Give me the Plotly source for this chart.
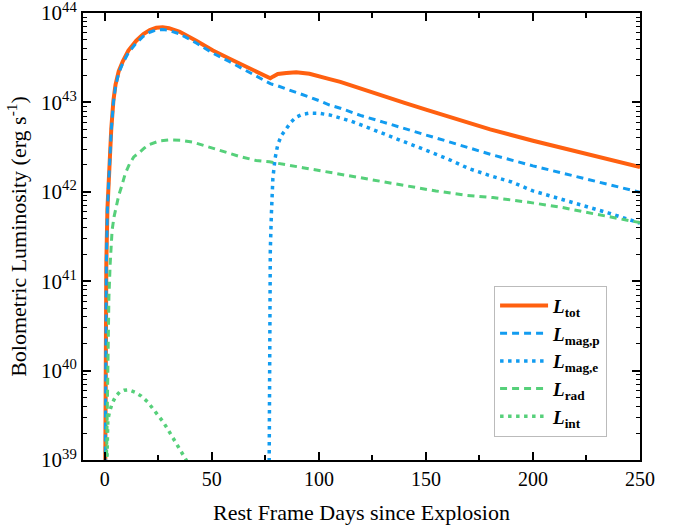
import plotly.graph_objects as go

# ---- data (days since explosion, log10 luminosity in erg/s) ----
days_tot = [0, 0.2, 0.4, 0.7, 1.2, 2, 3, 4, 5, 6.5, 8.4, 11, 14.7, 18, 21, 24, 27, 30, 35,
            42.7, 50.5, 58.3, 66, 76.5, 77.3, 78.5, 80.8, 84.8, 89.4, 95.6, 100, 105, 110,
            115, 120, 130, 140, 150, 160, 170, 180, 200, 220, 235, 250]
log_L_tot = [38.0, 39.0, 40.2, 41.2, 41.8, 42.25, 42.7, 43.02, 43.2, 43.35, 43.46, 43.58,
             43.69, 43.765, 43.81, 43.835, 43.84, 43.83, 43.79, 43.69, 43.58, 43.488,
             43.395, 43.278, 43.27, 43.288, 43.318, 43.328, 43.338, 43.32, 43.296, 43.26,
             43.229, 43.188, 43.148, 43.073, 42.995, 42.92, 42.845, 42.764, 42.698,
             42.571, 42.454, 42.368, 42.276]

days_magp = [0, 0.2, 0.4, 0.7, 1.2, 2, 3, 4, 5, 6.5, 8.4, 11, 14.7, 18, 21, 24, 27, 30, 35,
             42.7, 50.5, 58.3, 66, 76.5, 77.3, 78.5, 80.8, 84.8, 89.4, 95.6, 100, 105, 110,
             115, 120, 130, 140, 150, 160, 170, 180, 200, 220, 235, 250]
log_L_magp = [38.0, 39.0, 40.2, 41.2, 41.8, 42.24, 42.69, 43.0, 43.18, 43.33, 43.44, 43.555,
              43.665, 43.74, 43.785, 43.81, 43.815, 43.805, 43.765, 43.665, 43.55, 43.455,
              43.355, 43.215, 43.21, 43.2, 43.185, 43.15, 43.115, 43.06, 43.02, 42.97,
              42.935, 42.89, 42.85, 42.78, 42.705, 42.635, 42.565, 42.49, 42.42, 42.29,
              42.17, 42.085, 41.995]

days_mage = [76.55, 76.9, 77.3, 77.8, 78.5, 79.5, 80.8, 82.5, 84.8, 87, 89.4, 92, 95.6, 100,
             105, 110, 115, 120, 130, 140, 150, 160, 170, 180, 190, 200, 210, 220, 235, 250]
log_L_mage = [38.0, 40.8, 41.35, 41.75, 42.15, 42.37, 42.53, 42.63, 42.71, 42.78, 42.835,
              42.865, 42.88, 42.878, 42.86, 42.83, 42.79, 42.745, 42.655, 42.56, 42.465,
              42.37, 42.26, 42.18, 42.11, 42.01, 41.94, 41.87, 41.765, 41.65]

days_rad = [0.5, 0.9, 1.4, 1.9, 2.5, 3.4, 4.3, 5.3, 6.5, 7.7, 9.5, 11.5, 13.5, 16.2, 18.5,
            20.9, 25.6, 30, 32.6, 36, 41.1, 50, 56.7, 63, 70.7, 76.9, 92.5, 108, 123.6,
            139.1, 154.7, 168.9, 181.3, 196.9, 212.5, 228, 250]
log_L_rad = [38.5, 39.3, 40.08, 40.82, 41.2, 41.57, 41.72, 41.83, 41.96, 42.05, 42.2, 42.31,
             42.39, 42.44, 42.49, 42.53, 42.57, 42.58, 42.58, 42.575, 42.556, 42.49, 42.445,
             42.395, 42.35, 42.335, 42.27, 42.203, 42.136, 42.073, 42.009, 41.961, 41.935,
             41.886, 41.83, 41.756, 41.655]

days_int = [0.5, 0.9, 1.1, 1.4, 2.2, 3.4, 5, 6.9, 9, 11.2, 14, 17, 20, 22.4, 25, 27.1, 29,
            31, 33, 34.9, 36.8, 38.5]
log_L_int = [38.5, 39.056, 39.22, 39.45, 39.54, 39.63, 39.71, 39.76, 39.78, 39.785, 39.76,
             39.715, 39.65, 39.58, 39.5, 39.43, 39.36, 39.28, 39.2, 39.13, 39.056, 38.98]

series_names = ["<b><i>L</i><sub>tot</sub></b>", "<b><i>L</i><sub>mag,p</sub></b>",
                "<b><i>L</i><sub>mag,e</sub></b>", "<b><i>L</i><sub>rad</sub></b>",
                "<b><i>L</i><sub>int</sub></b>"]

y_tick_exps = [39, 40, 41, 42, 43, 44]
y_tick_text = ["10<sup>%d</sup>" % e for e in y_tick_exps]
x_tick_vals = [0, 50, 100, 150, 200, 250]

ORANGE = "rgb(255,96,16)"
BLUE = "rgb(18,156,240)"
GREEN = "rgb(86,208,122)"

def lin(v):
    return [10.0 ** x for x in v]

fig = go.Figure()
fig.add_trace(go.Scatter(x=days_tot, y=lin(log_L_tot), mode="lines", name=series_names[0],
                         line=dict(color=ORANGE, width=4)))
fig.add_trace(go.Scatter(x=days_magp, y=lin(log_L_magp), mode="lines", name=series_names[1],
                         line=dict(color=BLUE, width=3, dash="7px,5px")))
fig.add_trace(go.Scatter(x=days_mage, y=lin(log_L_mage), mode="lines", name=series_names[2],
                         line=dict(color=BLUE, width=3.5, dash="3.5px,4.5px")))
fig.add_trace(go.Scatter(x=days_rad, y=lin(log_L_rad), mode="lines", name=series_names[3],
                         line=dict(color=GREEN, width=3, dash="7px,5px")))
fig.add_trace(go.Scatter(x=days_int, y=lin(log_L_int), mode="lines", name=series_names[4],
                         line=dict(color=GREEN, width=3.5, dash="3.5px,4.5px")))

FONT = "Liberation Serif"

minor_y = [m * 10.0 ** e for e in range(39, 44) for m in range(2, 10)]

fig.update_layout(
    width=678, height=527,
    margin=dict(l=83, r=38, t=13, b=67),
    paper_bgcolor="white", plot_bgcolor="white",
    font=dict(family=FONT, color="black", size=19),
    showlegend=True,
    legend=dict(x=0.738, y=0.39, xanchor="left", yanchor="top",
                bgcolor="white", bordercolor="#BBBBBB", borderwidth=1,
                font=dict(family=FONT, size=19, color="black"),
                itemwidth=48, tracegroupgap=0),
)

fig.update_xaxes(
    range=[-10.2, 250], tickvals=x_tick_vals, ticks="inside", ticklen=8, tickwidth=1.5,
    tickcolor="black", showline=True, linecolor="black", linewidth=2, mirror="allticks",
    showgrid=False, zeroline=False, tickfont=dict(size=20, family=FONT), automargin=False,
    minor=dict(tickvals=[25, 75, 125, 175, 225], ticks="inside", ticklen=5, tickwidth=1.5,
               tickcolor="black", showgrid=False),
    title=dict(text="Rest Frame Days since Explosion", font=dict(size=22, family=FONT),
               standoff=16),
)
fig.update_yaxes(
    type="log", range=[39, 44], tickvals=[10.0 ** e for e in y_tick_exps], ticktext=y_tick_text,
    ticks="inside", ticklen=8, tickwidth=1.5, tickcolor="black", showline=True,
    linecolor="black", linewidth=2, mirror="allticks", showgrid=False, zeroline=False,
    tickfont=dict(size=21, family=FONT), automargin=False, ticklabeloverflow="allow",
    minor=dict(tickvals=minor_y, ticks="inside", ticklen=4, tickwidth=1.2,
               tickcolor="black", showgrid=False),
    title=dict(text="Bolometric Luminosity (erg s<sup>-1</sup>)", font=dict(size=22, family=FONT),
               standoff=8),
)

fig.write_html("out.html", config={"displayModeBar": False},
               post_script="document.body.style.margin='0px';")
